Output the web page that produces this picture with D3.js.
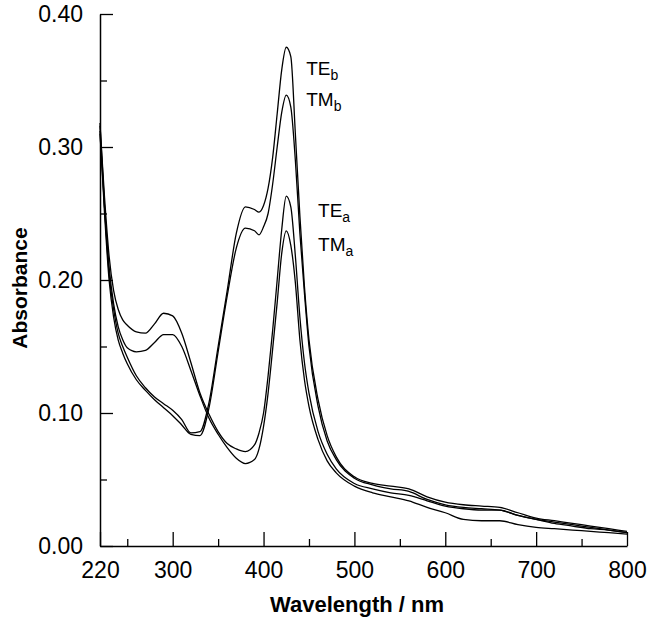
<!DOCTYPE html>
<html>
<head>
<meta charset="utf-8">
<script src="https://cdn.jsdelivr.net/npm/d3@7"></script>
<style>
  html, body { margin: 0; padding: 0; background: #fff; }
  svg { display: block; }
  text { font-family: "Liberation Sans", Arial, sans-serif; fill: #000; }
</style>
</head>
<body>
<svg id="chart" width="650" height="622"></svg>
<script>
// ---- data ----
const wavelength = [220,225,230,235,240,245,250,260,270,280,290,300,310,320,330,340,350,360,370,380,390,395,400,405,410,415,420,425,430,435,440,445,450,460,470,480,500,520,540,560,580,600,620,640,660,680,700,720,740,760,780,800];

const TEb = [0.318,0.255,0.205,0.178,0.160,0.150,0.142,0.128,0.119,0.112,0.107,0.102,0.095,0.085,0.086,0.108,0.150,0.192,0.235,0.255,0.253,0.251,0.256,0.269,0.292,0.325,0.358,0.375,0.368,0.310,0.248,0.195,0.155,0.110,0.083,0.067,0.052,0.047,0.045,0.043,0.037,0.033,0.031,0.030,0.029,0.025,0.021,0.019,0.017,0.015,0.013,0.011];
const TMb = [0.312,0.250,0.200,0.172,0.155,0.145,0.137,0.125,0.117,0.110,0.104,0.098,0.091,0.084,0.083,0.104,0.146,0.188,0.224,0.239,0.237,0.234,0.240,0.250,0.272,0.300,0.326,0.339,0.330,0.290,0.235,0.190,0.150,0.105,0.079,0.065,0.051,0.046,0.043,0.041,0.035,0.031,0.029,0.028,0.027,0.023,0.020,0.018,0.016,0.014,0.012,0.010];
const TEa = [0.316,0.262,0.218,0.192,0.178,0.170,0.166,0.161,0.160,0.167,0.175,0.173,0.160,0.138,0.115,0.099,0.086,0.077,0.073,0.071,0.076,0.085,0.100,0.128,0.162,0.200,0.238,0.263,0.255,0.218,0.172,0.138,0.115,0.086,0.069,0.058,0.047,0.043,0.040,0.038,0.034,0.030,0.028,0.027,0.027,0.023,0.020,0.017,0.015,0.013,0.012,0.010];
const TMa = [0.310,0.255,0.210,0.182,0.165,0.155,0.149,0.146,0.147,0.153,0.159,0.159,0.150,0.132,0.113,0.096,0.084,0.074,0.066,0.062,0.065,0.073,0.090,0.115,0.148,0.183,0.220,0.237,0.226,0.198,0.155,0.125,0.105,0.080,0.064,0.055,0.045,0.040,0.037,0.034,0.029,0.025,0.020,0.019,0.019,0.016,0.014,0.013,0.012,0.011,0.010,0.009];

const seriesNames = ["TEb","TMb","TEa","TMa"];
const seriesValues = [TEb, TMb, TEa, TMa];

const xMajorTicks = [220,300,400,500,600,700,800];
const xMinorTicks = [250,350,450,550,650,750];
const yMajorTicks = [0.00,0.10,0.20,0.30,0.40];
const yMinorTicks = [0.05,0.15,0.25,0.35];

// labels: main text, subscript, anchored at a (wavelength, absorbance) position
const labelMain = ["TE","TM","TE","TM"];
const labelSub = ["b","b","a","a"];
const labelX = [447,447,460,460];
const labelY = [0.354,0.331,0.247,0.222];

// ---- drawing ----
const svg = d3.select("#chart");
const x = d3.scaleLinear().domain([220,800]).range([100,627]);
const y = d3.scaleLinear().domain([0,0.4]).range([546,14]);

const g = svg.append("g");

// curves
const line = d3.line()
  .x((d,i) => x(wavelength[i]))
  .y(d => y(d))
  .curve(d3.curveMonotoneX);

seriesValues.forEach((vals, k) => {
  g.append("path")
    .datum(vals)
    .attr("d", line)
    .attr("fill", "none")
    .attr("stroke", "#000")
    .attr("stroke-width", 1.3)
    .attr("stroke-linejoin", "round");
});

// x axis
const xAxis = d3.axisBottom(x).tickValues(xMajorTicks).tickSizeInner(-14).tickSizeOuter(0).tickPadding(16).tickFormat(d3.format("d"));
const xg = g.append("g").attr("transform", "translate(0,546)").call(xAxis);
xg.select(".domain").attr("stroke-width", 1.5);
xg.selectAll(".tick line").attr("stroke-width", 1.3);
xg.selectAll(".tick text").style("font-size", "23px").attr("dy", "0.71em").attr("y", 16);

const xMinor = d3.axisBottom(x).tickValues(xMinorTicks).tickSizeInner(-7).tickSizeOuter(0).tickFormat("");
const xmg = g.append("g").attr("transform", "translate(0,546)").call(xMinor);
xmg.select(".domain").remove();
xmg.selectAll(".tick line").attr("stroke-width", 1.3);

// y axis
const yAxis = d3.axisLeft(y).tickValues(yMajorTicks).tickSizeInner(-13).tickSizeOuter(0).tickPadding(17).tickFormat(d3.format(".2f"));
const yg = g.append("g").attr("transform", "translate(100,0)").call(yAxis);
yg.select(".domain").attr("stroke-width", 1.5);
yg.selectAll(".tick line").attr("stroke-width", 1.3);
yg.selectAll(".tick text").style("font-size", "23px").attr("x", -17);

const yMinor = d3.axisLeft(y).tickValues(yMinorTicks).tickSizeInner(-7).tickSizeOuter(0).tickFormat("");
const ymg = g.append("g").attr("transform", "translate(100,0)").call(yMinor);
ymg.select(".domain").remove();
ymg.selectAll(".tick line").attr("stroke-width", 1.3);

// axis titles
g.append("text")
  .attr("x", 357).attr("y", 612)
  .attr("text-anchor", "middle")
  .style("font-size", "22px").style("font-weight", "bold")
  .text("Wavelength / nm");

g.append("text")
  .attr("transform", "translate(27,288) rotate(-90)")
  .attr("text-anchor", "middle")
  .style("font-size", "21px").style("font-weight", "bold")
  .text("Absorbance");

// curve labels
labelMain.forEach((m, i) => {
  const t = g.append("text")
    .attr("x", x(labelX[i])).attr("y", y(labelY[i]))
    .style("font-size", "19px");
  t.append("tspan").text(m);
  t.append("tspan").attr("dy", 5).style("font-size", "14px").text(labelSub[i]);
});
</script>
</body>
</html>
